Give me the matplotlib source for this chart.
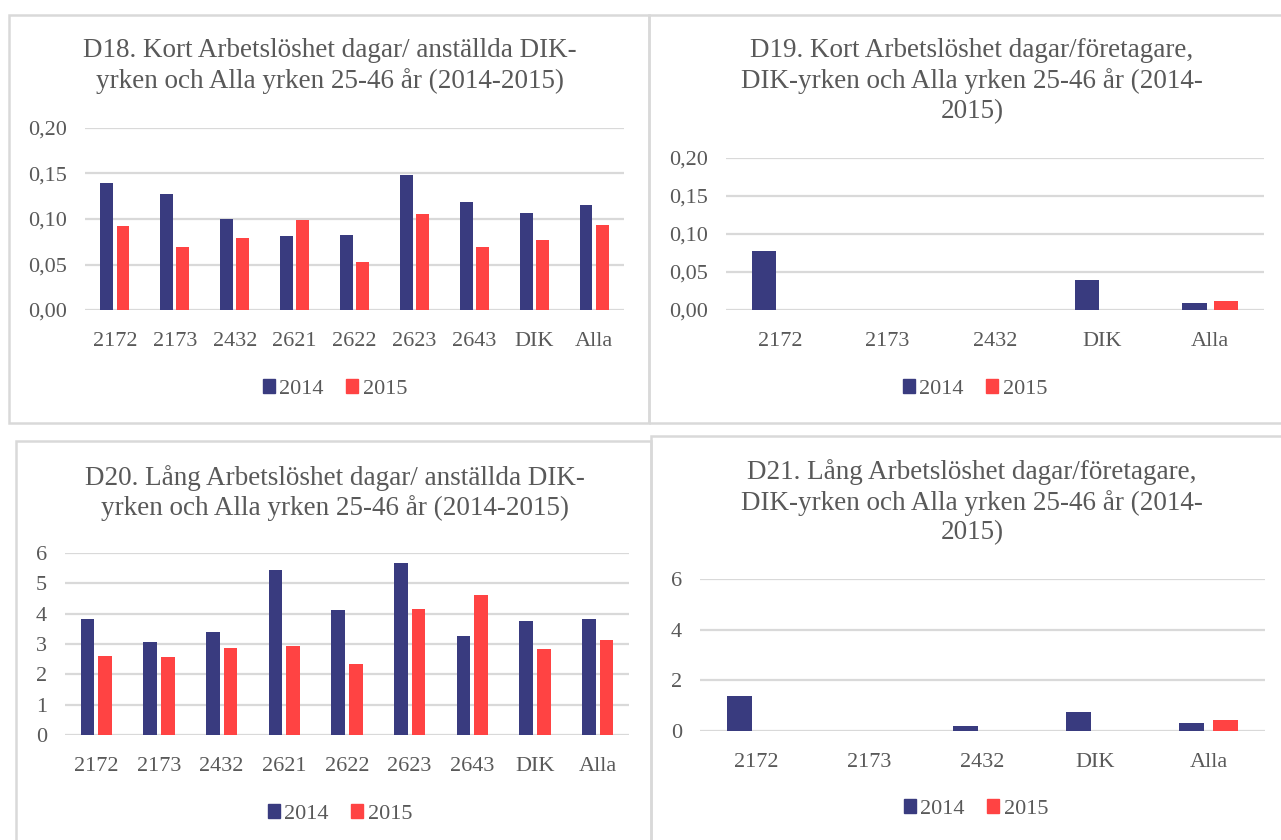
import numpy as np
import matplotlib.pyplot as plt
from matplotlib.patches import Rectangle, Patch
from matplotlib.ticker import FuncFormatter

plt.rcParams['font.family'] = ['Liberation Serif', 'DejaVu Serif']

NAVY = '#393b7f'
RED = '#ff4343'
GRID = '#d9d9d9'
TXT = '#595959'

years = ['2014', '2015']

cats_all = ['2172', '2173', '2432', '2621', '2622', '2623', '2643', 'DIK', 'Alla']
cats_few = ['2172', '2173', '2432', 'DIK', 'Alla']

d18_2014 = [0.140, 0.127, 0.100, 0.081, 0.082, 0.148, 0.119, 0.107, 0.115]
d18_2015 = [0.092, 0.069, 0.079, 0.099, 0.053, 0.105, 0.069, 0.077, 0.093]

d19_2014 = [0.077, 0.0, 0.0, 0.039, 0.009]
d19_2015 = [0.0, 0.0, 0.0, 0.0, 0.012]

d20_2014 = [3.82, 3.05, 3.40, 5.45, 4.13, 5.68, 3.25, 3.75, 3.83]
d20_2015 = [2.62, 2.56, 2.88, 2.92, 2.35, 4.17, 4.62, 2.82, 3.13]

d21_2014 = [1.40, 0.0, 0.18, 0.75, 0.33]
d21_2015 = [0.0, 0.0, 0.0, 0.0, 0.42]

titles = [
    'D18. Kort Arbetslöshet dagar/ anställda DIK-\nyrken och Alla yrken 25-46 år (2014-2015)',
    'D19. Kort Arbetslöshet dagar/företagare,\nDIK-yrken och Alla yrken 25-46 år (2014-\n2015)',
    'D20. Lång Arbetslöshet dagar/ anställda DIK-\nyrken och Alla yrken 25-46 år (2014-2015)',
    'D21. Lång Arbetslöshet dagar/företagare,\nDIK-yrken och Alla yrken 25-46 år (2014-\n2015)',
]

W, H = 1281, 840
fig = plt.figure(figsize=(W / 100, H / 100), dpi=100)


def px(x0, y0, x1, y1):
    # pixel box (top-left origin) -> figure fraction rect
    return [x0 / W, 1 - y1 / H, (x1 - x0) / W, (y1 - y0) / H]


# panel frames
for (x0, y0, x1, y1) in [(9, 15, 649, 423), (649, 15, 1290, 423),
                         (16, 441, 651, 850), (651, 436, 1290, 850)]:
    fig.add_artist(Rectangle((x0 / W, 1 - y1 / H), (x1 - x0) / W, (y1 - y0) / H,
                             transform=fig.transFigure, fill=False,
                             edgecolor=GRID, linewidth=1.8))


def comma(v, pos):
    return f'{v:.2f}'.replace('.', ',')


def panel(box, cats, v14, v15, ymax, step, fmt, title, title_xy, leg_xy, bw, off):
    ax = fig.add_axes(px(*box))
    x = np.arange(len(cats))
    ax.bar(x - off, v14, bw, color=NAVY, linewidth=0, zorder=3)
    ax.bar(x + off, v15, bw, color=RED, linewidth=0, zorder=3)
    ax.set_xlim(-0.5, len(cats) - 0.5)
    ax.set_ylim(0, ymax)
    ax.set_yticks(np.arange(0, ymax + step / 2, step))
    if fmt:
        ax.yaxis.set_major_formatter(FuncFormatter(comma))
    ax.set_xticks(x)
    ax.set_xticklabels(cats)
    ax.grid(axis='y', color=GRID, linewidth=1.6, zorder=0)
    ax.set_axisbelow(True)
    for s in ax.spines.values():
        s.set_visible(False)
    ax.tick_params(length=0, labelsize=16, colors=TXT)
    ax.tick_params(axis='y', pad=13)
    ax.tick_params(axis='x', pad=16)
    fig.text(title_xy[0] / W, 1 - title_xy[1] / H, title, ha='center', va='center',
             fontsize=19.5, color=TXT, linespacing=1.25)
    handles = [Patch(color=NAVY, label=years[0]), Patch(color=RED, label=years[1])]
    fig.legend(handles=handles, loc='center', ncol=2, frameon=False,
               bbox_to_anchor=(leg_xy[0] / W, 1 - leg_xy[1] / H),
               fontsize=16, labelcolor=TXT, handlelength=0.55, handleheight=0.55,
               handletextpad=0.2, columnspacing=1.0)
    return ax


panel((85, 128, 624, 310), cats_all, d18_2014, d18_2015, 0.20, 0.05, True,
      titles[0], (330, 66), (335, 389), 0.215, 0.135)
panel((726, 158, 1264, 310), cats_few, d19_2014, d19_2015, 0.20, 0.05, True,
      titles[1], (972, 81), (975, 389), 0.225, 0.145)
panel((65, 553, 629, 735), cats_all, d20_2014, d20_2015, 6, 1, False,
      titles[2], (335, 493), (340, 814), 0.215, 0.14)
panel((700, 579, 1265, 731), cats_few, d21_2014, d21_2015, 6, 2, False,
      titles[3], (972, 502), (976, 809), 0.22, 0.15)

fig.savefig('out.png', dpi=100)
